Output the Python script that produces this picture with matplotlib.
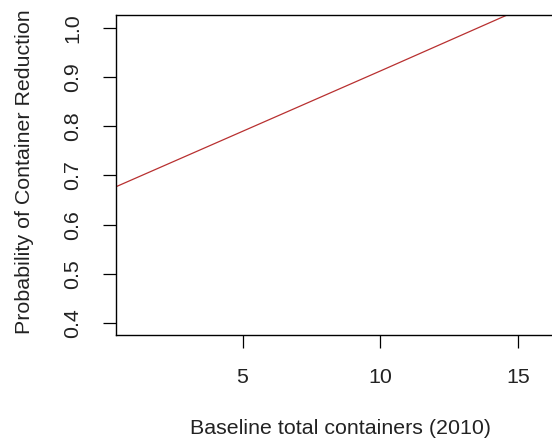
import numpy as np
import matplotlib
matplotlib.use("Agg")
import matplotlib.pyplot as plt

# fitted line
baseline = [0.0, 5.0, 10.0, 15.0, 17.0]
prob = [0.667, 0.790, 0.913, 1.037, 1.086]

xticks = [5, 10, 15]
yticks = [0.4, 0.5, 0.6, 0.7, 0.8, 0.9, 1.0]

plt.rcParams['font.family'] = ['Liberation Sans', 'DejaVu Sans']

fig = plt.figure(figsize=(5.52, 4.46), dpi=100)
# plot region runs past the right edge of the picture
ax = fig.add_axes([116 / 552, 111 / 446, 448 / 552, 320 / 446])

ax.plot(baseline, prob, color="#b83030", lw=0.9)

ax.set_xlim(0.41, 16.66)
ax.set_ylim(0.375, 1.027)
ax.set_xticks(xticks)
ax.set_xticklabels([str(t) for t in xticks])
ax.set_yticks(yticks)
ax.set_yticklabels(["%.1f" % t for t in yticks], rotation=90, va="center")

ax.tick_params(axis="both", direction="out", length=9.3, width=0.9,
               labelsize=15.4, colors="black", labelcolor="#222222")
ax.tick_params(axis="x", pad=14.5)
ax.tick_params(axis="y", pad=15)
for s in ax.spines.values():
    s.set_linewidth(1.0)
    s.set_color("black")

fig.text(340 / 552, 1 - 428 / 446, "Baseline total containers (2010)",
         ha="center", va="center", fontsize=15.4, color="#222222")
fig.text(25 / 552, 1 - 172 / 446, "Probability of Container Reduction",
         ha="center", va="center", rotation=90, fontsize=15.4, color="#222222")

fig.savefig("out.png", dpi=100)
